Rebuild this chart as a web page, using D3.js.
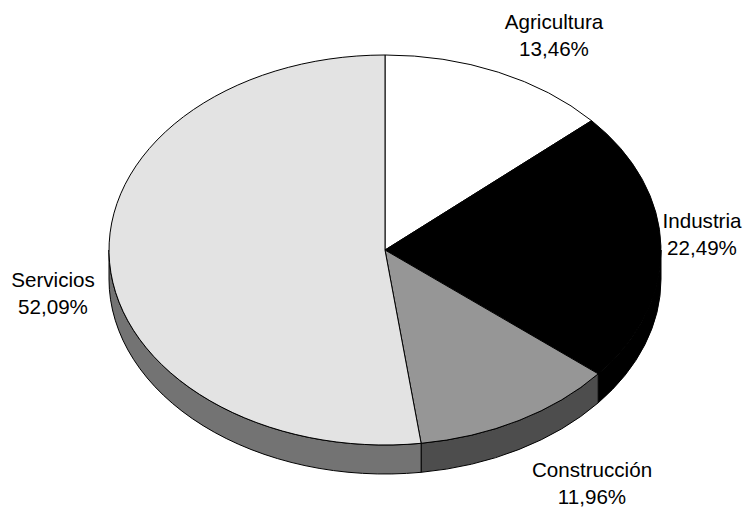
<!DOCTYPE html>
<html>
<head>
<meta charset="utf-8">
<script src="https://cdn.jsdelivr.net/npm/d3@7"></script>
<style>
html, body { margin: 0; background: #fff; }
svg { display: block; }
text { font-family: "Liberation Sans", Arial, sans-serif; font-size: 20.6px; fill: #000; text-anchor: middle; }
</style>
</head>
<body>
<svg class="chart" width="744" height="507"></svg>
<script>
var categories = ["Agricultura", "Industria", "Construcción", "Servicios"];
var shares = [13.46, 22.49, 11.96, 52.09];
var shareLabels = ["13,46%", "22,49%", "11,96%", "52,09%"];
var topColors = ["#ffffff", "#000000", "#969696", "#e3e3e3"];
var sideColors = ["#808080", "#000000", "#4d4d4d", "#737373"];
var labelCenters = [[554, 29], [702, 228], [592, 477], [53, 287]];

var width = 744, height = 507;
var cx = 385, cy = 250, rx = 276, ry = 195, depth = 29;

var chart = d3.select(".chart");

// pie angles run clockwise from 12 o'clock, squashed to an ellipse
var pie = d3.pie().sort(null).value(function(d) { return d; });
var slices = pie(shares);

var arc = d3.arc().innerRadius(0).outerRadius(rx);

function px(a) { return cx + rx * Math.sin(a); }
function py(a) { return cy - ry * Math.cos(a); }

// front wall of a slice, only the part between 90 and 270 deg can be seen
function wallPath(a0, a1) {
    var s = Math.max(a0, Math.PI / 2), e = Math.min(a1, Math.PI * 1.5);
    if (s >= e) return null;
    var large = e - s > Math.PI ? 1 : 0;
    return "M" + px(s) + "," + py(s)
        + "A" + rx + "," + ry + " 0 " + large + " 1 " + px(e) + "," + py(e)
        + "L" + px(e) + "," + (py(e) + depth)
        + "A" + rx + "," + ry + " 0 " + large + " 0 " + px(s) + "," + (py(s) + depth)
        + "Z";
}

chart.append("g").selectAll("path.wall")
    .data(slices.filter(function(d) { return wallPath(d.startAngle, d.endAngle); }))
    .enter()
    .append("path")
    .attr("class", "wall")
    .attr("d", function(d) { return wallPath(d.startAngle, d.endAngle); })
    .attr("fill", function(d) { return sideColors[d.index]; })
    .attr("stroke", "#000")
    .attr("stroke-width", 1);

chart.append("g")
    .attr("transform", "translate(" + cx + "," + cy + ") scale(1," + (ry / rx) + ")")
    .selectAll("path.slice")
    .data(slices)
    .enter()
    .append("path")
    .attr("class", "slice")
    .attr("d", arc)
    .attr("fill", function(d) { return topColors[d.index]; })
    .attr("stroke", "#000")
    .attr("stroke-width", 1)
    .attr("vector-effect", "non-scaling-stroke");

var labels = chart.append("g").selectAll("text")
    .data(categories)
    .enter()
    .append("text")
    .attr("x", function(d, i) { return labelCenters[i][0]; })
    .attr("y", function(d, i) { return labelCenters[i][1]; });

labels.append("tspan").text(function(d) { return d; });
labels.append("tspan")
    .attr("x", function(d, i) { return labelCenters[i][0]; })
    .attr("dy", 27)
    .text(function(d, i) { return shareLabels[i]; });
</script>
</body>
</html>
